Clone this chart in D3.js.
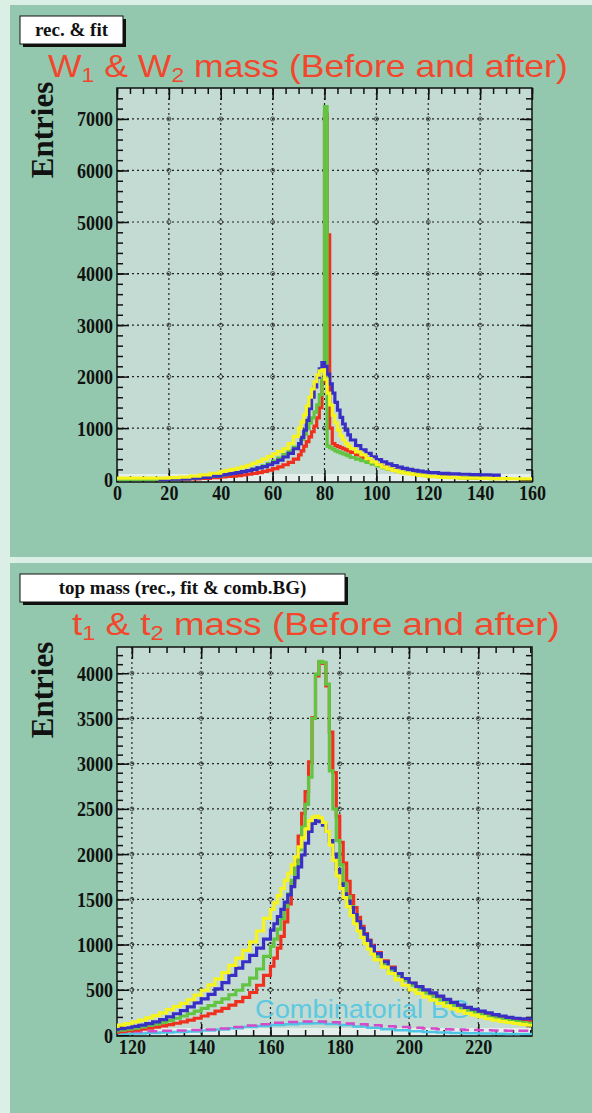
<!DOCTYPE html>
<html>
<head>
<meta charset="utf-8">
<script src="https://cdn.jsdelivr.net/npm/d3@7"></script>
<style>
    body { margin: 0; background: #dcefe6; }
    svg { display: block; }
    .lab { font-family: "Liberation Serif", "Times New Roman", serif; font-weight: bold; fill: #111; }
    .tl { transform-box: fill-box; }
</style>
</head>
<body>
<svg id="chart" width="592" height="1113"></svg>
<script>
// ---------- W mass (upper pad) ----------
const wEdges = [0, 4, 8, 12, 16, 20, 24, 28, 32, 36, 40,
    42, 44, 46, 48, 50, 52, 54, 56, 58, 60, 62, 64, 66, 68, 70,
    71, 72, 73, 74, 75, 76, 77, 78, 79, 80, 81, 82, 83, 84, 85, 86, 87, 88, 89, 90,
    92, 94, 96, 98, 100, 102, 104, 106, 108, 110, 112, 114, 116, 118, 120,
    124, 128, 132, 136, 140, 144, 148, 152, 156, 160]
const wRed = [5, 5, 5, 5, 5, 6, 8, 15, 25, 40,
    55, 62, 70, 80, 92, 105, 120, 138, 160, 185, 215, 250, 290, 335, 400,
    480, 560, 650, 740, 830, 930, 1040, 1200, 1400, 1900, 7100, 4750, 1000, 700, 660, 640, 620, 600, 580, 560,
    530, 480, 430, 380, 330, 290, 250, 215, 188, 163, 142, 124, 108, 94, 82,
    67, 54, 44, 37, 31, 27, 24, null, null, null]
const wGreen = [5, 5, 5, 5, 8, 12, 18, 28, 45, 65,
    95, 110, 125, 140, 160, 180, 205, 235, 270, 310, 360, 420, 490, 560, 630,
    700, 780, 880, 990, 1100, 1200, 1310, 1450, 1650, 1950, 7240, 650, 620, 590, 560, 540, 520, 500, 480, 460,
    430, 400, 370, 335, 300, 265, 235, 205, 180, 158, 138, 120, 105, 92, 80,
    65, 52, 42, 35, 29, 25, 22, null, null, null]
const wBlue = [null, null, null, null, 6, 10, 16, 28, 45, 68,
    95, 108, 122, 138, 155, 175, 200, 228, 255, 290, 330, 380, 440, 510, 600,
    700, 820, 960, 1150, 1380, 1600, 1800, 1990, 2150, 2270, 2200, 2050, 1860, 1680, 1500, 1350, 1210, 1080, 960, 870,
    770, 660, 580, 510, 445, 390, 345, 305, 275, 245, 220, 200, 180, 165, 150,
    135, 122, 112, 105, 100, 95, 90, null, null, null]
const wYellow = [30, 30, 30, 30, 32, 38, 50, 70, 95, 125,
    160, 180, 200, 225, 250, 280, 315, 355, 400, 450, 500, 550, 600, 700, 840,
    1000, 1120, 1260, 1430, 1600, 1760, 1900, 2030, 2110, 2130, 1950, 1680, 1450, 1250, 1100, 960, 850, 770, 700, 650,
    600, 540, 480, 410, 345, 290, 245, 208, 178, 152, 130, 112, 96, 83, 72,
    58, 46, 38, 32, 28, 25, 22, 20, 18, 16]
const wTicksX = [0, 20, 40, 60, 80, 100, 120, 140, 160]
const wTicksY = [0, 1000, 2000, 3000, 4000, 5000, 6000, 7000]

// ---------- top mass (lower pad) ----------
const tEdges = [114, 116, 118, 120, 122, 124, 126, 128, 130, 132, 134, 136, 138, 140,
    142, 144, 146, 148, 150, 152, 154, 156, 158, 160,
    161, 162, 163, 164, 165, 166, 167, 168, 169, 170, 171, 172, 173, 174, 175,
    176, 177, 178, 179, 180, 181, 182, 183, 184, 185, 186, 187, 188, 189, 190,
    192, 194, 196, 198, 200, 202, 204, 206, 208, 210, 212, 214, 216, 218, 220,
    222, 224, 226, 228, 230, 232, 234, 236]
const tRed = [30, 38, 45, 55, 65, 75, 88, 100, 115, 130, 145, 165, 185, 210, 235, 265, 295, 330, 370, 415, 470, 550, 660,
    760, 850, 960, 1090, 1250, 1450, 1680, 1920, 2200, 2450, 2690, 3020, 3510, 3970, 4120,
    4110, 3860, 3350, 2900, 2420, 2130, 1900, 1700, 1540, 1410, 1300, 1200, 1120, 1050, 990,
    910, 820, 750, 680, 620, 570, 525, 485, 450, 415, 380, 350, 320, 295, 270, 250, 230, 210, 195, 180, 168, 158, 148]
const tGreen = [45, 55, 65, 75, 90, 105, 120, 140, 160, 185, 210, 235, 265, 295, 325, 360, 400, 445, 495, 555, 630, 730, 870,
    980, 1060, 1170, 1290, 1420, 1560, 1710, 1870, 2050, 2300, 2550, 2850, 3500, 3990, 4130,
    4120, 3880, 2920, 2500, 2150, 1880, 1680, 1530, 1420, 1320, 1230, 1150, 1080, 1010, 950,
    870, 790, 720, 660, 600, 550, 505, 465, 430, 395, 360, 330, 300, 275, 250, 230, 210, 190, 175, 160, 148, 138, 130]
const tBlue = [60, 70, 80, 95, 110, 125, 145, 170, 200, 235, 270, 310, 355, 400, 450, 510, 580, 660, 740, 810, 880, 960, 1060,
    1160, 1230, 1310, 1390, 1470, 1550, 1640, 1740, 1860, 1990, 2120, 2250, 2340, 2370, 2360,
    2320, 2250, 2150, 2000, 1830, 1670, 1560, 1480, 1410, 1330, 1250, 1180, 1110, 1040, 980,
    900, 810, 740, 680, 625, 575, 535, 500, 465, 430, 395, 360, 330, 305, 285, 265, 245, 225, 210, 195, 185, 180, 180]
const tYellow = [95, 110, 125, 145, 165, 190, 215, 245, 280, 315, 350, 390, 440, 495, 555, 620, 690, 770, 850, 935, 1030, 1150, 1290,
    1390, 1460, 1540, 1620, 1710, 1790, 1880, 1970, 2080, 2180, 2280, 2370, 2410, 2420, 2400,
    2350, 2250, 2100, 1930, 1760, 1620, 1520, 1420, 1320, 1230, 1150, 1080, 1010, 950, 895,
    830, 750, 680, 610, 550, 500, 460, 420, 385, 350, 320, 290, 265, 240, 220, 200, 180, 165, 150, 138, 127, 117, 108]
const bgEdges = [116, 120, 124, 128, 132, 136, 140, 144, 148, 152, 156, 160, 164, 168, 172, 176,
    180, 184, 188, 192, 196, 200, 204, 208, 212, 216, 220, 224, 228, 232, 236]
const bgMagenta = [35, 38, 42, 46, 50, 55, 62, 72, 88, 105, 120, 135, 145, 150, 150,
    140, 128, 118, 108, 98, 88, 80, 72, 65, 60, 55, 52, 50, 48, 46]
const bgCyan = [15, 18, 22, 27, 33, 40, 50, 62, 75, 88, 100, 110, 120, 128, 130,
    122, 110, 95, 80, 65, 52, 42, 34, 28, 23, 19, 16, 14, 12, 10]
const tTicksX = [120, 140, 160, 180, 200, 220]
const tTicksY = [0, 500, 1000, 1500, 2000, 2500, 3000, 3500, 4000]

const colors = { red: '#f0301e', green: '#62c440', blue: '#3a2fc4', yellow: '#f6f41e', magenta: '#d44ac8', cyan: '#4cc6e4' }

const svg = d3.select('#chart')

// pad backgrounds
svg.append('rect').attr('x', 10).attr('y', 5).attr('width', 582).attr('height', 552).attr('fill', '#93c8ae')
svg.append('rect').attr('x', 10).attr('y', 563).attr('width', 582).attr('height', 550).attr('fill', '#93c8ae')

const pads = [
    {
        id: 'w', box: [20, 16, 103, 28], boxText: 'rec. & fit',
        title: ['W', '1', ' & W', '2', ' mass (Before and after)'], titleX: [48, 568], titleY: 77,
        frame: [117, 88, 415, 394], xdom: [0, 160], ydom: [-45, 7600],
        ticksX: wTicksX, ticksY: wTicksY, minorX: 5, minorY: 200, entriesY: 130,
        edges: wEdges, series: [[wRed, colors.red], [wGreen, colors.green], [wBlue, colors.blue], [wYellow, colors.yellow]]
    },
    {
        id: 't', box: [20, 574, 325, 28], boxText: 'top mass (rec., fit & comb.BG)',
        title: ['t', '1', ' & t', '2', ' mass (Before and after)'], titleX: [72, 560], titleY: 635,
        frame: [117, 647, 415, 389], xdom: [115.7, 235.5], ydom: [-11, 4290],
        ticksX: tTicksX, ticksY: tTicksY, minorX: 5, minorY: 100, entriesY: 690,
        edges: tEdges, series: [[tRed, colors.red], [tGreen, colors.green], [tBlue, colors.blue], [tYellow, colors.yellow]]
    }
]

pads.forEach(drawPad)

function histPath(edges, vals, x, y) {
    let d = '', open = false
    vals.forEach((v, i) => {
        if (v == null) { open = false; return }
        d += (open ? 'V' : 'M' + x(edges[i]) + ',') + y(v) + 'H' + x(edges[i + 1])
        open = true
    })
    return d
}

function drawPad(p) {
    let [fx, fy, fw, fh] = p.frame
    let x = d3.scaleLinear().domain(p.xdom).range([fx, fx + fw])
    let y = d3.scaleLinear().domain(p.ydom).range([fy + fh, fy])
    let g = svg.append('g').attr('class', 'pad_' + p.id)

    // label box with shadow
    let [bx, by, bw, bh] = p.box
    g.append('rect').attr('x', bx + 3).attr('y', by + 3).attr('width', bw).attr('height', bh).attr('fill', '#111')
    g.append('rect').attr('x', bx).attr('y', by).attr('width', bw).attr('height', bh)
        .attr('fill', '#fff').attr('stroke', '#111').attr('stroke-width', 1)
    g.append('text').attr('class', 'lab').attr('x', bx + bw / 2).attr('y', by + bh / 2 + 6)
        .attr('text-anchor', 'middle').style('font-size', '19px').text(p.boxText)

    // red title, stretched to the measured width
    let tt = g.append('text').style('font-family', '"Liberation Sans", Arial, sans-serif')
        .style('font-size', '31px').attr('fill', '#f2472c')
    p.title.forEach((s, i) => {
        let sub = i % 2 == 1
        tt.append('tspan').text(s).style('font-size', sub ? '20px' : '31px').attr('dy', sub ? 5 : (i > 0 ? -5 : 0))
    })
    let natural = tt.node().getComputedTextLength()
    tt.attr('transform', `translate(${p.titleX[0]},${p.titleY}) scale(${(p.titleX[1] - p.titleX[0]) / natural},1)`)

    // plot area
    g.append('rect').attr('x', fx).attr('y', fy).attr('width', fw).attr('height', fh).attr('fill', '#c3dbd2')
    g.append('rect').attr('x', fx).attr('y', fy + fh - 8).attr('width', fw).attr('height', 7).attr('fill', '#e4eeea')

    // dotted grid
    let gx = p.ticksX.filter(v => x(v) > fx + 2 && x(v) < fx + fw - 2)
    let gy = p.ticksY.filter(v => y(v) > fy + 2 && y(v) < fy + fh - 4)
    let grid = g.append('g').attr('stroke', '#222').attr('stroke-width', 1.2).attr('stroke-dasharray', '2,3')
    grid.selectAll('.vx').data(gx).enter().append('line')
        .attr('x1', d => x(d)).attr('x2', d => x(d)).attr('y1', fy).attr('y2', fy + fh)
    grid.selectAll('.hy').data(gy).enter().append('line')
        .attr('x1', fx).attr('x2', fx + fw).attr('y1', d => y(d)).attr('y2', d => y(d))
    let knots = []
    gx.forEach(a => gy.forEach(b => knots.push([a, b])))
    g.append('g').selectAll('circle').data(knots).enter().append('circle')
        .attr('cx', d => x(d[0])).attr('cy', d => y(d[1])).attr('r', 2)
        .attr('fill', 'none').attr('stroke', '#333').attr('stroke-width', 0.8)

    // ticks on all four sides, pointing inward
    let minX = d3.range(Math.ceil(p.xdom[0] / p.minorX) * p.minorX, p.xdom[1] + 0.01, p.minorX)
    let minY = d3.range(0, p.ydom[1], p.minorY)
    let axes = [[d3.axisBottom, fy + fh, true], [d3.axisTop, fy, false]]
    axes.forEach(([ax, ty, lab]) => {
        let a1 = g.append('g').attr('transform', `translate(0,${ty})`)
            .call(ax(x).tickValues(minX).tickSize(-6).tickFormat(''))
        let a2 = g.append('g').attr('transform', `translate(0,${ty})`)
            .call(ax(x).tickValues(p.ticksX).tickSize(-12).tickPadding(2).tickFormat(lab ? d3.format('d') : ''))
        // tall, narrow digits like the original
        a2.selectAll('text').attr('class', 'lab tl').style('font-size', '22px').attr('fill', null)
            .style('transform-origin', 'center top').style('transform', 'scale(0.82,1)')
        ;[a1, a2].forEach(a => { a.select('.domain').remove(); a.selectAll('line').attr('stroke', '#111').attr('stroke-width', 1.5) })
    })
    let yaxes = [[d3.axisLeft, fx, true], [d3.axisRight, fx + fw, false]]
    yaxes.forEach(([ax, tx, lab]) => {
        let a1 = g.append('g').attr('transform', `translate(${tx},0)`)
            .call(ax(y).tickValues(minY).tickSize(-6).tickFormat(''))
        let a2 = g.append('g').attr('transform', `translate(${tx},0)`)
            .call(ax(y).tickValues(p.ticksY).tickSize(-12).tickPadding(4).tickFormat(lab ? d3.format('d') : ''))
        a2.selectAll('text').attr('class', 'lab tl').style('font-size', '22px').attr('fill', null)
            .style('transform-origin', 'right center').style('transform', 'scale(0.82,1)')
        ;[a1, a2].forEach(a => { a.select('.domain').remove(); a.selectAll('line').attr('stroke', '#111').attr('stroke-width', 1.5) })
    })

    g.append('rect').attr('x', fx).attr('y', fy).attr('width', fw).attr('height', fh)
        .attr('fill', 'none').attr('stroke', '#111').attr('stroke-width', 1.5)

    // y title
    g.append('text').attr('class', 'lab').style('font-size', '31px')
        .attr('transform', `translate(53,${p.entriesY}) rotate(-90)`).attr('text-anchor', 'middle').text('Entries')

    g.append('clipPath').attr('id', 'clip_' + p.id).append('rect')
        .attr('x', fx).attr('y', fy).attr('width', fw).attr('height', fh)
    let hg = g.append('g').attr('clip-path', `url(#clip_${p.id})`)

    if (p.id == 't') {
        hg.append('text').attr('x', 255).attr('y', 1018)
            .style('font-family', '"Liberation Sans", Arial, sans-serif').style('font-size', '26px')
            .attr('textLength', 215).attr('lengthAdjust', 'spacingAndGlyphs')
            .attr('fill', colors.cyan).attr('opacity', 0.85).text('Combinatorial BG')
        hg.append('path').attr('d', histPath(bgEdges, bgCyan, x, y))
            .attr('fill', 'none').attr('stroke', colors.cyan).attr('stroke-width', 2.5)
        hg.append('path').attr('d', histPath(bgEdges, bgMagenta, x, y))
            .attr('fill', 'none').attr('stroke', colors.magenta).attr('stroke-width', 2.5).attr('stroke-dasharray', '10,5')
    }

    p.series.forEach(([vals, col]) => {
        hg.append('path').attr('d', histPath(p.edges, vals, x, y))
            .attr('fill', 'none').attr('stroke', col).attr('stroke-width', 3.2)
    })
}
</script>
</body>
</html>
